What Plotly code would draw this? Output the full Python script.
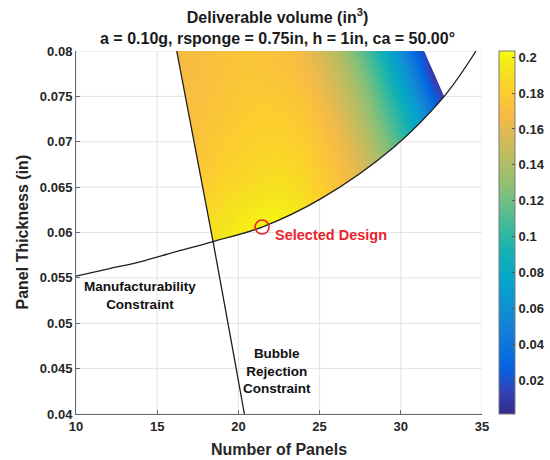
import numpy as np
import plotly.graph_objects as go

# ---------------- data ----------------
x_ticks = [10, 15, 20, 25, 30, 35]
y_ticks = [0.04, 0.045, 0.05, 0.055, 0.06, 0.065, 0.07, 0.075, 0.08]
y_ticktext = ['0.04', '0.045', '0.05', '0.055', '0.06', '0.065', '0.07', '0.075', '0.08']
cb_ticks = [0.02, 0.04, 0.06, 0.08, 0.1, 0.12, 0.14, 0.16, 0.18, 0.2]
cb_ticktext = ['0.02', '0.04', '0.06', '0.08', '0.1', '0.12', '0.14', '0.16', '0.18', '0.2']

# manufacturability constraint (lower boundary)
mfg_x = [10, 12, 14, 16, 18.44, 21.46, 25.06, 29.57, 32.67, 34.63]
mfg_y = [0.0552, 0.0560, 0.0568, 0.0578, 0.0590, 0.0606, 0.0637, 0.0694, 0.0750, 0.0800]

# bubble rejection constraint (left boundary)
bub_x = [16.2, 17.33, 18.44, 19.41, 20.37]
bub_y = [0.080, 0.0695, 0.059, 0.0495, 0.040]

# zero deliverable-volume edge (right boundary of coloured area)
zero_x = [31.44, 32.05, 32.67]
zero_y = [0.0800, 0.0775, 0.0750]

# selected design
sel_x = [21.46]
sel_y = [0.0606]

# deliverable volume (coarse, evenly spaced grid)
vol_x = [16, 17, 18, 19, 20, 21, 22, 23, 24, 25, 26, 27, 28, 29, 30, 31, 32, 33, 34]
vol_y = [0.058, 0.062, 0.066, 0.070, 0.074, 0.078, 0.082]
vol_058 = [0.189, 0.193, 0.195, 0.197, 0.200, 0.203, 0.205, 0.204, 0.200, 0.189, 0.181, 0.174, 0.166, 0.159, 0.147, 0.132, 0.115, 0.094, 0.069]
vol_062 = [0.183, 0.186, 0.188, 0.191, 0.195, 0.197, 0.199, 0.198, 0.194, 0.185, 0.178, 0.170, 0.160, 0.150, 0.136, 0.118, 0.099, 0.075, 0.045]
vol_066 = [0.176, 0.177, 0.179, 0.184, 0.186, 0.188, 0.190, 0.190, 0.186, 0.180, 0.173, 0.164, 0.152, 0.139, 0.122, 0.103, 0.080, 0.051, 0.018]
vol_070 = [0.170, 0.171, 0.176, 0.179, 0.181, 0.183, 0.184, 0.183, 0.180, 0.175, 0.167, 0.156, 0.142, 0.126, 0.107, 0.086, 0.058, 0.025, 0.000]
vol_074 = [0.167, 0.170, 0.173, 0.175, 0.178, 0.179, 0.179, 0.178, 0.175, 0.168, 0.158, 0.145, 0.129, 0.110, 0.090, 0.064, 0.032, 0.000, 0.000]
vol_078 = [0.166, 0.169, 0.171, 0.173, 0.175, 0.175, 0.174, 0.173, 0.168, 0.160, 0.148, 0.133, 0.115, 0.094, 0.069, 0.038, 0.003, 0.000, 0.000]
vol_082 = [0.167, 0.169, 0.171, 0.172, 0.173, 0.173, 0.171, 0.168, 0.160, 0.150, 0.136, 0.118, 0.099, 0.075, 0.045, 0.010, 0.000, 0.000, 0.000]
vol_z = [vol_058, vol_062, vol_066, vol_070, vol_074, vol_078, vol_082]

# MATLAB parula
parula = [
    [0.000, '#352a87'], [0.0635, '#3243ba'], [0.127, '#0363e1'], [0.190, '#0d75dc'],
    [0.254, '#1485d4'], [0.317, '#0998d1'], [0.381, '#06a7c6'], [0.444, '#15b1b4'],
    [0.508, '#38b99e'], [0.571, '#65be86'], [0.635, '#92bf73'], [0.698, '#b7bd64'],
    [0.762, '#d9ba56'], [0.825, '#f8bb44'], [0.889, '#fcce2e'], [0.952, '#f5e41d'],
    [1.000, '#f9fb0e'],
]

FONT = 'Liberation Sans, Arial, Helvetica, sans-serif'
GRID = '#e3e3e3'
AXC = '#6a6a6a'

fig = go.Figure()

# coloured field
fig.add_trace(go.Heatmap(
    x=vol_x, y=vol_y, z=vol_z, zsmooth='best', colorscale=parula,
    zmin=0.001, zmax=0.2035, hoverinfo='skip',
    colorbar=dict(
        x=(499 - 76) / 406, xanchor='left', xpad=0, ypad=0,
        y=0.5, yanchor='middle', len=363, lenmode='pixels',
        thickness=16, thicknessmode='pixels',
        outlinecolor='#7a7a7a', outlinewidth=1,
        ticks='inside', ticklen=3, tickcolor='#555',
        tickvals=cb_ticks, ticktext=cb_ticktext,
        tickfont=dict(family=FONT, size=13, color='#262626', weight='bold'),
    ),
))

# white masks outside the feasible area
xl, xr = x_ticks[0], x_ticks[-1]
yb, yt = y_ticks[0], y_ticks[-1]
fig.add_trace(go.Scatter(  # below manufacturability curve
    x=[xl - 0.5] + mfg_x + [xr + 0.5, xr + 0.5, xl - 0.5],
    y=[mfg_y[0]] + mfg_y + [yt, yb - 0.005, yb - 0.005],
    mode='lines', line=dict(width=0, shape='spline'), fill='toself',
    fillcolor='white', hoverinfo='skip'))
fig.add_trace(go.Scatter(  # left of bubble constraint
    x=bub_x + [xl - 0.5, xl - 0.5],
    y=bub_y + [yb, yt],
    mode='lines', line=dict(width=0), fill='toself',
    fillcolor='white', hoverinfo='skip'))
fig.add_trace(go.Scatter(  # right of zero-volume edge
    x=zero_x + [xr + 0.5, xr + 0.5],
    y=zero_y + [zero_y[-1], yt],
    mode='lines', line=dict(width=0), fill='toself',
    fillcolor='white', hoverinfo='skip'))

# grid lines (only outside the coloured area)
int_x, int_y = bub_x[2], bub_y[2]
corner_x, corner_y = zero_x[-1], zero_y[-1]
gx, gy = [], []
for xv in x_ticks:
    if bub_x[0] < xv < corner_x:
        if xv <= int_x:
            ylow = float(np.interp(xv, bub_x, bub_y))
        else:
            ylow = float(np.interp(xv, mfg_x, mfg_y))
        gx += [xv, xv, None]
        gy += [yb, ylow, None]
        if xv > zero_x[0]:
            yhigh = float(np.interp(xv, zero_x, zero_y))
            gx += [xv, xv, None]
            gy += [yhigh, yt, None]
    else:
        gx += [xv, xv, None]
        gy += [yb, yt, None]
for yv in y_ticks:
    if yv <= int_y:
        gx += [xl, xr, None]
        gy += [yv, yv, None]
    else:
        xleft = float(np.interp(yv, bub_y[::-1], bub_x[::-1]))
        if yv <= corner_y:
            xright = float(np.interp(yv, mfg_y, mfg_x))
        else:
            xright = float(np.interp(yv, zero_y[::-1], zero_x[::-1]))
        gx += [xl, xleft, None, xright, xr, None]
        gy += [yv, yv, None, yv, yv, None]
fig.add_trace(go.Scatter(x=gx, y=gy, mode='lines',
                         line=dict(color=GRID, width=1), hoverinfo='skip'))

# constraint curves
fig.add_trace(go.Scatter(x=mfg_x, y=mfg_y, mode='lines',
                         line=dict(color='#1e1e1e', width=1.3, shape='spline'),
                         hoverinfo='skip'))
fig.add_trace(go.Scatter(x=bub_x, y=bub_y, mode='lines',
                         line=dict(color='#1e1e1e', width=1.3),
                         hoverinfo='skip'))

# selected design marker
fig.add_trace(go.Scatter(x=sel_x, y=sel_y, mode='markers',
                         marker=dict(symbol='circle-open', size=14,
                                     color='#e8242c', line=dict(width=1.6)),
                         hoverinfo='skip'))

annotations = [
    dict(text='Deliverable volume (in<sup>3</sup>)<br>a = 0.10g, rsponge = 0.75in, h = 1in, ca = 50.00°',
         xref='paper', yref='paper', x=(277 - 76) / 406, y=(414 - 26) / 363,
         xanchor='center', yanchor='middle', showarrow=False,
         font=dict(family=FONT, size=16, color='#1a1a1a', weight='bold')),
    dict(text='Number of Panels', xref='paper', yref='paper',
         x=0.5, y=(414 - 449) / 363, xanchor='center', yanchor='middle',
         showarrow=False, font=dict(family=FONT, size=16, color='#262626', weight='bold')),
    dict(text='Panel Thickness (in)', xref='paper', yref='paper', textangle=-90,
         x=(22 - 76) / 406, y=0.5, xanchor='center', yanchor='middle',
         showarrow=False, font=dict(family=FONT, size=16, color='#262626', weight='bold')),
    dict(text='Selected Design', xref='x', yref='y', x=22.16, y=0.05972,
         xanchor='left', yanchor='middle', showarrow=False,
         font=dict(family=FONT, size=14.5, color='#e8242c', weight='bold')),
    dict(text='Manufacturability<br>Constraint', xref='x', yref='y', x=13.95, y=0.05311,
         xanchor='center', yanchor='middle', showarrow=False,
         font=dict(family=FONT, size=13.5, color='#111111', weight='bold')),
    dict(text='Bubble<br>Rejection<br>Constraint', xref='x', yref='y', x=22.35, y=0.04474,
         xanchor='center', yanchor='middle', showarrow=False,
         font=dict(family=FONT, size=13.5, color='#111111', weight='bold')),
]

fig.update_layout(
    width=550, height=460,
    margin=dict(l=76, r=68, t=51, b=46, autoexpand=False),
    paper_bgcolor='white', plot_bgcolor='white',
    showlegend=False,
    font=dict(family=FONT, color='#262626'),
    annotations=annotations,
    xaxis=dict(range=[10, 35], tickvals=x_ticks, ticktext=[str(v) for v in x_ticks],
               showgrid=False, zeroline=False, showline=True, linecolor=AXC, linewidth=1,
               ticks='inside', ticklen=4, tickcolor=AXC,
               tickfont=dict(family=FONT, size=13, color='#262626', weight='bold')),
    yaxis=dict(range=[0.04, 0.08], tickvals=y_ticks, ticktext=y_ticktext,
               showgrid=False, zeroline=False, showline=True, linecolor=AXC, linewidth=1,
               ticks='inside', ticklen=4, tickcolor=AXC,
               tickfont=dict(family=FONT, size=13, color='#262626', weight='bold')),
)

# remove the browser's default 8px page margin so the 550x460 figure fills the window
fig.write_html('out.html', config={'displayModeBar': False},
               post_script="document.body.style.margin='0';document.body.style.overflow='hidden';")
